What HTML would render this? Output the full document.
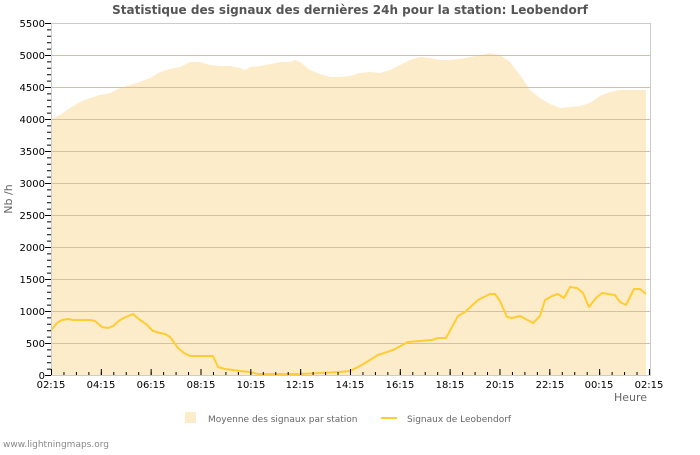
<!DOCTYPE html>
<html><head><meta charset="utf-8"><style>
body{margin:0;background:#fff;}
svg text{font-family:"DejaVu Sans","Liberation Sans",sans-serif;}
</style></head><body>
<svg width="700" height="450" xmlns="http://www.w3.org/2000/svg">
<rect width="700" height="450" fill="#fff"/>
<text x="350" y="14" text-anchor="middle" font-size="12" font-weight="bold" fill="#555">Statistique des signaux des dernières 24h pour la station: Leobendorf</text>
<polygon fill="#fdecca" points="51,375 51,119 60,115 70,108 80,102 90,98 100,95 110,93 120,88 130,85 140,82 150,78 160,72 170,69 180,67 190,62 200,62 210,65 220,66 230,66 240,68 245,70 250,67 260,66 270,64 280,62 290,62 295,60 300,62 310,70 320,74 330,77 340,77 350,76 360,73 370,72 380,73 390,70 400,65 410,60 420,57 430,58 440,60 450,60 460,59 470,57 480,55 490,53 500,55 510,62 520,75 530,90 540,98 550,104 560,108 570,107 580,106 590,103 600,96 610,92 620,90 630,90 646,90 646,375"/>
<g stroke="#d2c2a0" stroke-width="1">
<line x1="51" y1="55.5" x2="650" y2="55.5"/><line x1="51" y1="87.5" x2="650" y2="87.5"/><line x1="51" y1="119.5" x2="650" y2="119.5"/><line x1="51" y1="151.5" x2="650" y2="151.5"/><line x1="51" y1="183.5" x2="650" y2="183.5"/><line x1="51" y1="215.5" x2="650" y2="215.5"/><line x1="51" y1="247.5" x2="650" y2="247.5"/><line x1="51" y1="279.5" x2="650" y2="279.5"/><line x1="51" y1="311.5" x2="650" y2="311.5"/><line x1="51" y1="343.5" x2="650" y2="343.5"/>
</g>
<polyline fill="none" stroke="#ffcc33" stroke-width="2" stroke-linejoin="round" points="51,331 52,329 57,323 62,320 68,319 73,320 90,320 95,321 102,327 108,328 113,326 120,320 126,317 133,314 140,320 146,324 153,331 160,333 165,334 170,337 178,348 184,353 190,356 213,356 218,367 225,369 240,371 250,372 258,374 300,374 320,373 340,372 350,371 360,366 370,360 378,355 393,350 408,342 420,341 432,340 438,338 446,338 458,316 465,312 478,300 490,294 495,294 500,301 507,317 512,318 520,316 533,323 540,316 545,300 552,296 558,294 564,298 570,287 577,288 583,293 589,307 596,298 602,293 615,295 620,302 626,305 634,289 640,289 646,294"/>
<line x1="650.5" y1="23" x2="650.5" y2="376" stroke="#ccc"/>
<line x1="51" y1="23.5" x2="651" y2="23.5" stroke="#ccc"/>
<line x1="51.5" y1="23" x2="51.5" y2="376" stroke="#ccc"/>
<line x1="51" y1="375.5" x2="651" y2="375.5" stroke="#ccc"/>
<!-- y ticks -->
<line x1="49" y1="376" x2="49" y2="22" stroke="#000" stroke-width="4" stroke-dasharray="1 5.4"/>
<line x1="48" y1="376" x2="48" y2="22" stroke="#000" stroke-width="6" stroke-dasharray="1 31"/>
<!-- x ticks -->
<line x1="51" y1="373.5" x2="652" y2="373.5" stroke="#000" stroke-width="3" stroke-dasharray="1 11.458"/>
<line x1="51" y1="372" x2="652" y2="372" stroke="#000" stroke-width="6" stroke-dasharray="1 48.83"/>
<g font-size="10" fill="#000" text-anchor="end">
<text x="45" y="27">5500</text><text x="45" y="59">5000</text><text x="45" y="91">4500</text><text x="45" y="123">4000</text><text x="45" y="155">3500</text><text x="45" y="187">3000</text><text x="45" y="219">2500</text><text x="45" y="251">2000</text><text x="45" y="283">1500</text><text x="45" y="315">1000</text><text x="45" y="347">500</text><text x="45" y="379">0</text>
</g>
<g font-size="10" fill="#000" text-anchor="middle">
<text x="51" y="388">02:15</text><text x="101" y="388">04:15</text><text x="151" y="388">06:15</text><text x="201" y="388">08:15</text><text x="251" y="388">10:15</text><text x="300" y="388">12:15</text><text x="350" y="388">14:15</text><text x="400" y="388">16:15</text><text x="450" y="388">18:15</text><text x="500" y="388">20:15</text><text x="550" y="388">22:15</text><text x="599" y="388">00:15</text><text x="649" y="388">02:15</text>
</g>
<text x="647" y="401" text-anchor="end" font-size="11" fill="#666">Heure</text>
<text transform="translate(12,199) rotate(-90)" text-anchor="middle" font-size="11" fill="#666">Nb /h</text>
<rect x="185" y="412" width="11" height="11" fill="#fdecca"/>
<text x="208" y="422" font-size="9" fill="#666">Moyenne des signaux par station</text>
<line x1="381" y1="418" x2="397" y2="418" stroke="#ffcc33" stroke-width="2"/>
<text x="407" y="422" font-size="9" fill="#666">Signaux de Leobendorf</text>
<text x="3" y="447" font-size="9" fill="#888">www.lightningmaps.org</text>
</svg>
</body></html>
